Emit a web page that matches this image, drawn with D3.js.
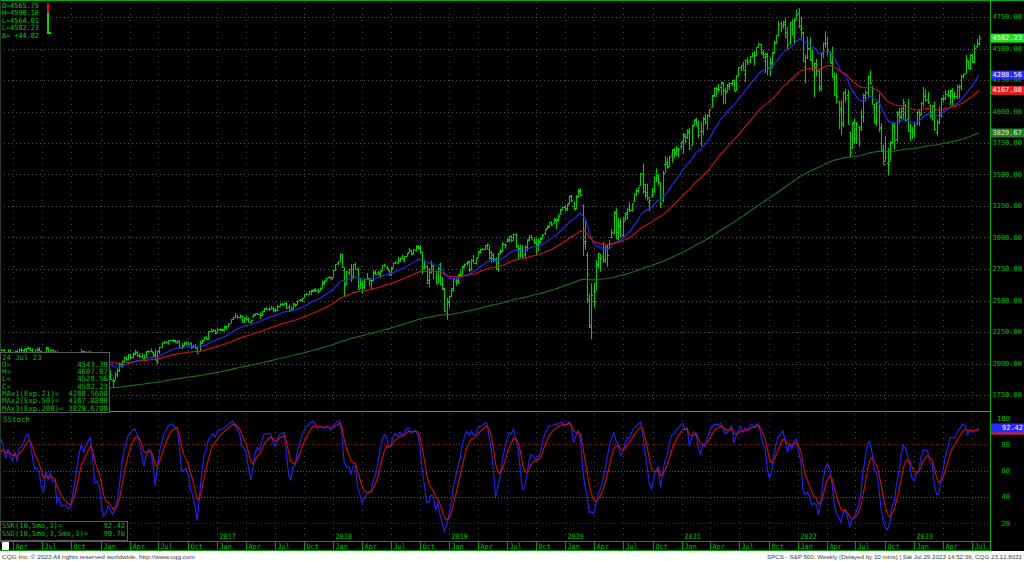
<!DOCTYPE html>
<html><head><meta charset="utf-8">
<script src="https://cdn.jsdelivr.net/npm/d3@7"></script>
<style>html,body{margin:0;padding:0;background:#000;overflow:hidden}svg{display:block}</style>
</head><body><svg id="c" width="1024" height="561"></svg>
<script>
// ---- DATA (weekly S&P 500 bars: [open, high, low, close]) ----
const weekStarts = ["2014-10-13","2015-01-05","2016-01-04","2017-01-02","2018-01-01","2019-01-07","2020-01-06","2021-01-04","2022-01-03","2023-01-02"];
const bars2014 = [[1905,1906,1821,1887],[1887,1965,1886,1965],[1965,2018,1951,2018],[2018,2034,2001,2032],[2032,2046,2031,2040],[2040,2071,2034,2064],[2065,2075,2064,2068],[2065,2079,2049,2075],[2074,2075,2002,2002],[2005,2077,1972,2071],[2069,2094,2069,2089],[2088,2092,2046,2058]];
const bars2015 = [[2054,2065,1992,2045],[2046,2054,1988,2019],[2020,2064,2005,2052],[2050,2057,1989,1995],[1997,2072,1981,2055],[2053,2097,2041,2097],[2097,2111,2086,2110],[2110,2119,2103,2105],[2105,2117,2066,2071],[2072,2080,2040,2053],[2054,2114,2050,2108],[2108,2114,2046,2061],[2065,2089,2057,2067],[2064,2103,2061,2102],[2102,2111,2073,2081],[2082,2120,2073,2118],[2119,2126,2067,2108],[2105,2121,2068,2116],[2115,2123,2092,2123],[2121,2135,2120,2126],[2125,2126,2099,2107],[2108,2122,2085,2093],[2093,2115,2072,2094],[2092,2127,2079,2110],[2112,2129,2100,2101],[2098,2100,2056,2077],[2074,2085,2044,2077],[2080,2132,2075,2127],[2126,2129,2077,2080],[2078,2114,2063,2104],[2104,2113,2068,2078],[2076,2103,2052,2092],[2090,2102,1970,1971],[1966,1989,1867,1989],[1987,1989,1904,1921],[1921,1976,1910,1961],[1963,2021,1953,1958],[1960,1990,1908,1931],[1929,1953,1872,1951],[1954,2020,1949,2015],[2013,2034,1990,2033],[2033,2080,2013,2075],[2075,2094,2067,2079],[2081,2116,2081,2099],[2097,2099,2023,2023],[2023,2097,2019,2089],[2090,2097,2070,2090],[2090,2104,2042,2092],[2090,2090,2011,2012],[2013,2077,1993,2006],[2010,2067,2005,2061],[2058,2081,2043,2044]];
const bars2016 = [[2039,2039,1918,1922],[1926,1950,1858,1880],[1878,1908,1812,1907],[1907,1940,1872,1940],[1936,1947,1872,1880],[1873,1881,1810,1865],[1871,1930,1871,1918],[1917,1963,1891,1948],[1947,2009,1931,2000],[1996,2024,1969,2022],[2019,2053,2005,2050],[2048,2056,2022,2036],[2037,2075,2024,2073],[2073,2073,2034,2048],[2050,2087,2039,2081],[2078,2111,2074,2092],[2088,2099,2052,2065],[2067,2084,2039,2057],[2058,2084,2043,2047],[2046,2071,2025,2052],[2052,2100,2050,2099],[2100,2106,2083,2099],[2101,2120,2091,2096],[2092,2092,2050,2071],[2075,2113,2033,2037],[2031,2103,1992,2103],[2096,2132,2074,2130],[2131,2169,2131,2162],[2162,2176,2158,2175],[2175,2177,2155,2174],[2171,2183,2148,2183],[2183,2188,2174,2184],[2183,2194,2169,2184],[2181,2187,2160,2169],[2170,2185,2157,2180],[2181,2187,2128,2128],[2124,2163,2120,2139],[2143,2175,2139,2165],[2159,2175,2145,2168],[2168,2169,2142,2154],[2161,2169,2115,2133],[2136,2147,2123,2141],[2142,2155,2119,2126],[2129,2133,2084,2085],[2101,2182,2098,2164],[2165,2189,2154,2182],[2186,2214,2185,2213],[2211,2214,2187,2192],[2191,2260,2187,2260],[2259,2278,2249,2258],[2260,2273,2254,2264],[2267,2268,2234,2239]];
const bars2017 = [[2251,2283,2248,2277],[2274,2280,2258,2275],[2269,2277,2258,2271],[2268,2301,2263,2295],[2286,2300,2267,2297],[2295,2319,2285,2316],[2321,2351,2321,2351],[2352,2368,2346,2367],[2367,2401,2359,2383],[2381,2383,2355,2373],[2371,2391,2360,2378],[2379,2382,2323,2344],[2329,2370,2322,2363],[2364,2379,2342,2356],[2354,2365,2328,2329],[2329,2349,2323,2349],[2375,2392,2374,2384],[2389,2399,2379,2399],[2399,2403,2387,2391],[2392,2406,2353,2382],[2387,2419,2379,2416],[2415,2441,2408,2439],[2437,2447,2425,2432],[2432,2446,2415,2433],[2434,2454,2430,2438],[2437,2451,2405,2423],[2431,2434,2407,2425],[2425,2464,2416,2459],[2459,2478,2455,2473],[2473,2484,2459,2472],[2475,2480,2463,2477],[2477,2491,2437,2441],[2445,2466,2418,2426],[2425,2454,2417,2443],[2443,2480,2429,2477],[2474,2474,2446,2461],[2474,2501,2474,2500],[2502,2509,2496,2502],[2502,2520,2489,2519],[2521,2552,2521,2549],[2551,2557,2545,2553],[2553,2575,2548,2575],[2578,2582,2544,2581],[2577,2588,2566,2588],[2587,2597,2567,2582],[2580,2593,2557,2579],[2579,2605,2576,2602],[2602,2658,2598,2642],[2646,2665,2624,2652],[2653,2680,2651,2676],[2685,2695,2676,2683],[2682,2686,2670,2674]];
const bars2018 = [[2684,2743,2682,2743],[2745,2787,2735,2786],[2799,2808,2779,2810],[2810,2873,2809,2873],[2867,2870,2759,2762],[2741,2763,2533,2620],[2637,2736,2621,2732],[2723,2748,2701,2747],[2753,2790,2647,2691],[2682,2787,2675,2787],[2790,2802,2742,2752],[2753,2762,2585,2588],[2613,2675,2594,2641],[2633,2661,2553,2604],[2611,2674,2587,2656],[2671,2718,2660,2670],[2675,2683,2613,2670],[2663,2676,2594,2663],[2663,2742,2655,2728],[2722,2742,2701,2713],[2725,2739,2704,2721],[2705,2736,2676,2735],[2741,2779,2736,2779],[2780,2791,2763,2780],[2765,2774,2742,2755],[2743,2743,2699,2718],[2705,2764,2698,2760],[2766,2804,2766,2801],[2798,2814,2790,2802],[2799,2848,2795,2819],[2819,2841,2805,2840],[2840,2863,2825,2833],[2827,2855,2802,2850],[2853,2877,2853,2875],[2884,2916,2884,2902],[2897,2901,2864,2872],[2876,2907,2865,2905],[2903,2941,2886,2930],[2926,2940,2903,2914],[2926,2940,2874,2886],[2886,2889,2710,2767],[2764,2817,2749,2768],[2774,2779,2628,2659],[2640,2756,2604,2723],[2727,2815,2714,2781],[2773,2775,2671,2736],[2731,2733,2631,2633],[2650,2760,2636,2760],[2790,2800,2621,2633],[2630,2686,2584,2600],[2590,2601,2409,2417],[2401,2520,2346,2486],[2498,2539,2444,2532]];
const bars2019 = [[2535,2598,2525,2596],[2582,2675,2571,2671],[2657,2681,2617,2665],[2644,2709,2631,2707],[2706,2738,2685,2708],[2706,2776,2704,2776],[2769,2794,2764,2793],[2798,2814,2775,2804],[2814,2816,2729,2743],[2747,2830,2740,2822],[2823,2861,2800,2801],[2797,2836,2785,2834],[2848,2894,2848,2893],[2888,2910,2873,2907],[2908,2917,2898,2905],[2908,2940,2898,2940],[2941,2954,2900,2946],[2909,2937,2825,2881],[2840,2892,2801,2860],[2841,2876,2805,2826],[2830,2841,2750,2752],[2752,2876,2728,2873],[2886,2911,2868,2887],[2889,2964,2884,2950],[2952,2955,2912,2942],[2972,2996,2960,2990],[2980,3014,2963,3014],[3014,3018,2966,2977],[2982,3028,2976,3026],[3024,3030,2914,2932],[2898,2945,2822,2919],[2907,2944,2840,2889],[2900,2939,2835,2847],[2867,2940,2836,2926],[2910,2986,2891,2979],[2988,3021,2970,3007],[3001,3022,2990,2992],[2984,3002,2946,2962],[2968,2993,2856,2952],[2944,2993,2892,2970],[2966,3004,2952,2986],[2997,3028,2987,3023],[3035,3067,3020,3067],[3079,3098,3065,3093],[3081,3121,3078,3120],[3123,3127,3091,3110],[3118,3154,3115,3141],[3144,3150,3070,3146],[3141,3183,3126,3169],[3183,3226,3183,3221],[3227,3248,3223,3240],[3240,3258,3212,3235]];
const bars2020 = [[3217,3268,3214,3265],[3271,3330,3264,3330],[3334,3338,3281,3295],[3248,3285,3214,3226],[3236,3337,3224,3328],[3318,3385,3315,3380],[3370,3393,3328,3338],[3258,3260,2856,2954],[2975,3137,2902,2972],[2864,2883,2478,2711],[2508,2553,2281,2305],[2291,2637,2192,2541],[2499,2642,2447,2489],[2579,2818,2579,2790],[2782,2879,2753,2875],[2845,2870,2728,2837],[2855,2965,2801,2831],[2815,2934,2798,2930],[2915,2945,2767,2864],[2914,2980,2913,2955],[3004,3068,2999,3044],[3038,3211,3026,3194],[3199,3233,2984,3041],[2994,3155,2966,3098],[3094,3155,3005,3009],[3018,3165,2999,3130],[3155,3198,3128,3185],[3205,3236,3141,3225],[3225,3280,3200,3216],[3219,3272,3204,3271],[3289,3352,3284,3351],[3356,3388,3328,3373],[3380,3399,3355,3397],[3419,3509,3410,3508],[3507,3588,3350,3427],[3371,3425,3310,3341],[3363,3428,3292,3319],[3285,3320,3209,3298],[3333,3393,3318,3348],[3367,3483,3354,3477],[3500,3549,3440,3484],[3494,3502,3415,3465],[3441,3441,3234,3270],[3297,3529,3279,3509],[3584,3646,3511,3585],[3600,3628,3544,3558],[3566,3644,3559,3638],[3653,3701,3594,3699],[3694,3712,3633,3663],[3675,3726,3648,3709],[3693,3712,3636,3703],[3723,3760,3699,3756]];
const bars2021 = [[3764,3827,3663,3825],[3803,3823,3750,3768],[3797,3859,3784,3841],[3855,3870,3694,3714],[3732,3894,3730,3887],[3892,3937,3885,3935],[3940,3951,3885,3907],[3886,3929,3789,3811],[3842,3915,3723,3842],[3844,3960,3810,3943],[3949,3983,3894,3913],[3916,3978,3853,3975],[3969,4021,3955,4020],[4035,4130,4034,4129],[4125,4192,4114,4185],[4183,4195,4118,4180],[4185,4219,4152,4181],[4192,4238,4128,4233],[4228,4236,4057,4174],[4169,4188,4061,4156],[4159,4219,4153,4204],[4216,4234,4168,4230],[4229,4249,4204,4247],[4249,4256,4165,4166],[4174,4287,4165,4281],[4285,4356,4279,4352],[4353,4372,4321,4370],[4373,4394,4325,4327],[4297,4415,4233,4412],[4409,4430,4367,4395],[4406,4441,4385,4437],[4438,4470,4430,4468],[4461,4480,4368,4442],[4450,4510,4445,4509],[4514,4546,4505,4535],[4535,4536,4456,4459],[4474,4493,4427,4433],[4403,4465,4306,4455],[4442,4466,4288,4357],[4349,4430,4279,4391],[4385,4475,4343,4471],[4464,4560,4460,4545],[4554,4608,4537,4605],[4611,4718,4595,4698],[4701,4714,4631,4683],[4689,4719,4659,4698],[4712,4744,4585,4595],[4628,4672,4495,4538],[4548,4713,4532,4712],[4710,4732,4600,4621],[4588,4741,4531,4726],[4733,4808,4733,4766]];
const bars2022 = [[4778,4819,4662,4677],[4655,4749,4582,4663],[4632,4632,4395,4398],[4357,4453,4223,4432],[4431,4595,4415,4501],[4505,4590,4402,4419],[4412,4490,4328,4349],[4332,4386,4115,4385],[4354,4416,4279,4329],[4323,4330,4157,4204],[4188,4465,4162,4463],[4462,4547,4424,4543],[4542,4637,4507,4546],[4547,4594,4445,4488],[4474,4475,4381,4393],[4386,4513,4267,4272],[4256,4308,4124,4132],[4130,4308,4062,4123],[4081,4082,3859,4024],[4013,4090,3811,3901],[3920,4159,3876,4158],[4151,4178,4074,4109],[4134,4169,3900,3901],[3838,3838,3637,3675],[3715,3914,3705,3912],[3920,3946,3740,3825],[3792,3918,3742,3899],[3880,3880,3722,3863],[3883,4013,3845,3962],[3965,4140,3911,4130],[4113,4167,4080,4145],[4155,4281,4113,4280],[4270,4325,4218,4228],[4195,4203,4057,4058],[4035,4062,3907,3924],[3909,4077,3886,4067],[4083,4140,3838,3873],[3874,3907,3693,3693],[3687,3736,3584,3586],[3610,3807,3604,3640],[3593,3711,3492,3583],[3609,3764,3609,3753],[3758,3910,3740,3901],[3882,3912,3699,3771],[3780,4002,3751,3993],[3978,4028,3907,3965],[3955,4034,3938,4026],[4006,4100,3940,4072],[4053,4060,3918,3934],[3939,4101,3838,3852],[3854,3907,3764,3845],[3843,3878,3784,3840]];
const bars2023 = [[3853,3907,3795,3895],[3911,4003,3888,3999],[3999,4016,3886,3973],[3979,4077,3973,4071],[4069,4195,4031,4136],[4120,4176,4079,4090],[4096,4156,4060,4079],[4054,4056,3944,3970],[3993,4048,3928,4046],[4055,4079,3847,3862],[3835,3937,3809,3917],[3918,4039,3899,3971],[3982,4110,3951,4109],[4102,4133,4069,4105],[4110,4164,4090,4138],[4139,4170,4114,4134],[4134,4170,4049,4169],[4166,4187,4048,4136],[4124,4154,4099,4124],[4126,4213,4099,4192],[4191,4213,4103,4205],[4200,4291,4166,4282],[4283,4299,4261,4299],[4308,4448,4302,4410],[4396,4406,4337,4348],[4345,4458,4329,4450],[4450,4456,4385,4399],[4394,4532,4385,4505],[4521,4578,4505,4536],[4543.39,4607.07,4528.56,4582.23]];

// moving-average seeds (estimated EMA values at first bar) and periods
const emaPeriods = [21, 50, 200];
const emaSeeds = [1955, 1880, 1575];
const emaColors = ["#2a2aff", "#d41414", "#1f6f1f"];
const emaLastLabels = ["4288.56", "4167.88", "3829.67"];
const emaLastValues = [4288.56, 4167.88, 3829.67];
const lastPrice = 4582.23;

const priceTicks = [1750,2000,2250,2500,2750,3000,3250,3500,3750,4000,4250,4500,4750];
const stochTicks = [20,40,60,80,100];
const stochK = 92.42, stochD = 90.76;

const topLegend = ["O=4565.75","H=4590.16","L=4564.01","L=4582.23","\u0394= +44.82"];
const infoLabels = ["24 Jul 23","O=","H=","L=","C=","MAx1(Exp.21)=","MAx2(Exp.50)=","MAx3(Exp.200)="];
const infoValues = ["","4543.39","4607.07","4528.56","4582.23","4288.5600","4167.8800","3829.6700"];
const stochLabels = ["SSK(10,Smo,3)=","SSD(10,Smo,3,Smo,3)="];
const stochValues = ["92.42","90.76"];
const monthNames = ["Jan","Apr","Jul","Oct"];
const footerLeft = "CQG Inc. \u00a9 2023 All rights reserved worldwide. http://www.cqg.com";
const footerRight = "SPCS - S&P 500, Weekly (Delayed by 10 mins) | Sat Jul 29 2023 14:52:36, CQG 23.12.8031";

// ---- BUILD ----
const yearBars = [bars2014,bars2015,bars2016,bars2017,bars2018,bars2019,bars2020,bars2021,bars2022,bars2023];
const data = [];
yearBars.forEach((arr,k)=>{
  const d0 = new Date(weekStarts[k]+"T00:00:00");
  arr.forEach((b,i)=>data.push({date:d3.timeDay.offset(d0,7*i),o:b[0],h:b[1],l:b[2],c:b[3]}));
});

const W = 990;
const GREEN = "#00c000";
const MONO = "'DejaVu Sans Mono', monospace";
const x = d3.scaleTime().domain([new Date(2017,0,1), new Date(2023,0,1)]).range([217,914]);
const y = d3.scaleLinear().domain([1750,4750]).range([395,17]);
const ys = d3.scaleLinear().domain([20,100]).range([523,418]);

const svg = d3.select("#c");
svg.append("rect").attr("width",1024).attr("height",561).attr("fill","#000");
const defs = svg.append("defs");
defs.append("clipPath").attr("id","cm").append("rect").attr("x",0).attr("y",1).attr("width",W).attr("height",410);
defs.append("clipPath").attr("id","cs").append("rect").attr("x",0).attr("y",413).attr("width",W).attr("height",128);

function mono(g, tx, ty, str, opt={}){
  const cw = opt.cw || 4.3;
  const t = g.append("text").attr("x",tx).attr("y",ty).text(str)
    .attr("font-family",MONO).attr("font-size",opt.fs||8)
    .attr("fill",opt.fill||GREEN).attr("dominant-baseline","central")
    .attr("text-anchor",opt.anchor||"start");
  if(str.length>0) t.attr("textLength",str.length*cw).attr("lengthAdjust","spacingAndGlyphs");
  return t;
}

// quarter ticks
const quarters = d3.timeMonth.every(3).range(x.invert(-60), x.invert(W));
const qIn = quarters.filter(d=>x(d)>=0);

// grid main
const grid = svg.append("g").attr("shape-rendering","crispEdges");
priceTicks.forEach(p=>{
  grid.append("line").attr("x1",0).attr("x2",W).attr("y1",Math.round(y(p))+0.5).attr("y2",Math.round(y(p))+0.5)
    .attr("stroke","#5a5a5a").attr("stroke-dasharray","1,3");
});
qIn.forEach(d=>{
  const xx = Math.round(x(d))+0.5;
  grid.append("line").attr("x1",xx).attr("x2",xx).attr("y1",2).attr("y2",410)
    .attr("stroke","#4a4a4a").attr("stroke-dasharray","1,5");
  grid.append("line").attr("x1",xx).attr("x2",xx).attr("y1",414).attr("y2",540)
    .attr("stroke","#4a4a4a").attr("stroke-dasharray","1,5");
});
// stoch grid
stochTicks.filter(v=>v<100).forEach(v=>{
  const col = v===80 ? "#a01010" : (v===20 ? "#1a1aa0" : "#555");
  grid.append("line").attr("x1",0).attr("x2",W).attr("y1",Math.round(ys(v))+0.5).attr("y2",Math.round(ys(v))+0.5)
    .attr("stroke",col).attr("stroke-dasharray","1,2");
});

// bars
const main = svg.append("g").attr("clip-path","url(#cm)");
const bp = d3.path();
data.forEach(d=>{
  const cx = Math.round(x(d.date))+0.5;
  bp.moveTo(cx, y(d.h)); bp.lineTo(cx, y(d.l));
  const yo = Math.round(y(d.o))+0.5, yc = Math.round(y(d.c))+0.5;
  bp.moveTo(cx-1.5, yo); bp.lineTo(cx, yo);
  bp.moveTo(cx, yc); bp.lineTo(cx+1.5, yc);
});
main.append("path").attr("d",bp.toString()).attr("stroke","#00cc00").attr("stroke-width",1.1).attr("fill","none");

// EMAs
emaPeriods.forEach((n,k)=>{
  const a = 2/(n+1); let e = emaSeeds[k];
  const vals = data.map(d=>{ e = e + a*(d.c-e); return {date:d.date, v:e}; });
  main.append("path").datum(vals)
    .attr("d", d3.line().x(d=>x(d.date)).y(d=>y(d.v)))
    .attr("fill","none").attr("stroke",emaColors[k]).attr("stroke-width",1.1);
});

// Slow stochastic
const rawK = data.map((d,i)=>{
  if(i<9) return null;
  const w = data.slice(i-9,i+1);
  const hh = d3.max(w,e=>e.h), ll = d3.min(w,e=>e.l);
  return 100*(d.c-ll)/(hh-ll);
});
function smo(arr,n){ let s=null; return arr.map(v=>{ if(v==null) return null; s = (s==null)? v : s + (v-s)/n; return s; }); }
const ssk = smo(rawK,3), ssd = smo(ssk,3);
const st = svg.append("g").attr("clip-path","url(#cs)");
const sline = arr => d3.line().defined((d,i)=>arr[i]!=null).x(d=>x(d.date)).y((d,i)=>ys(arr[i]))(data);
st.append("path").attr("d",sline(ssk)).attr("fill","none").attr("stroke","#2424ff").attr("stroke-width",1.1);
st.append("path").attr("d",sline(ssd)).attr("fill","none").attr("stroke","#d01010").attr("stroke-width",1.1);

// frame lines
const fr = svg.append("g").attr("shape-rendering","crispEdges");
fr.append("line").attr("x1",0).attr("x2",1024).attr("y1",0.5).attr("y2",0.5).attr("stroke","#00b000");
fr.append("line").attr("x1",0).attr("x2",W).attr("y1",411.5).attr("y2",411.5).attr("stroke","#00d000").attr("stroke-width",1.5);
fr.append("line").attr("x1",0.5).attr("x2",0.5).attr("y1",0).attr("y2",541).attr("stroke","#2a3a2a");

// month row
fr.append("rect").attr("x",0).attr("y",541).attr("width",W).attr("height",10).attr("fill","#000");
fr.append("line").attr("x1",0).attr("x2",W).attr("y1",541.5).attr("y2",541.5).attr("stroke","#00a000");
fr.append("line").attr("x1",0).attr("x2",W).attr("y1",550.5).attr("y2",550.5).attr("stroke","#00a000");
fr.append("rect").attr("x",2).attr("y",542).attr("width",7).attr("height",8).attr("fill","#fff");
qIn.forEach(d=>{
  const xx = Math.round(x(d))+0.5;
  fr.append("line").attr("x1",xx).attr("x2",xx).attr("y1",541).attr("y2",551).attr("stroke","#00a000");
  mono(svg, xx+2, 546, monthNames[d.getMonth()/3], {cw:4.1, fs:7.5});
  if(d.getMonth()===0 && xx>130) mono(svg, xx+2, 536, String(d.getFullYear()), {cw:4.1, fs:7.5});
});

// right axis
svg.append("rect").attr("x",991).attr("y",1).attr("width",33).attr("height",550).attr("fill","#000");
fr.append("line").attr("x1",990.5).attr("x2",990.5).attr("y1",0).attr("y2",551).attr("stroke","#00b000");
priceTicks.forEach(p=> mono(svg, 992.5, y(p), p.toFixed(2), {cw:4.2, fs:7}));
stochTicks.forEach(v=> mono(svg, 1010, ys(v), String(v), {cw:4.3, fs:7.2, anchor:"end"}));

function valBox(v, yScale, bg, fg, label, tx){
  const yy = yScale(v);
  svg.append("rect").attr("x",991).attr("y",yy-4.5).attr("width",33).attr("height",9).attr("fill",bg);
  mono(svg, tx||992.5, yy, label, {fill:fg, cw:4.2, fs:7});
}
valBox(lastPrice, y, "#2bdc2b", "#e6ffe6", lastPrice.toFixed(2));
valBox(emaLastValues[0], y, "#2a2aff", "#ffffff", emaLastLabels[0]);
valBox(emaLastValues[1], y, "#e82020", "#ffffff", emaLastLabels[1]);
valBox(emaLastValues[2], y, "#2a7a2a", "#d0f5d0", emaLastLabels[2]);
valBox(stochD, ys, "#e02020", "#ffffff", "");
valBox(stochK, ys, "#2a2aff", "#ffffff", String(stochK), 1002);

// top-left legend
svg.append("rect").attr("x",1).attr("y",1).attr("width",46).attr("height",38).attr("fill","#000");
topLegend.forEach((s,i)=> mono(svg, 2, 5+i*7.5, s, {cw:4.1, fs:7.2, fill:"#00d400"}));
svg.append("rect").attr("x",47).attr("y",3).attr("width",2).attr("height",10).attr("fill","#e01010");
svg.append("rect").attr("x",47).attr("y",13).attr("width",2).attr("height",21).attr("fill","#00e000");
svg.append("rect").attr("x",49).attr("y",32).attr("width",2).attr("height",2).attr("fill","#00e000");

// info box
svg.append("rect").attr("x",0.5).attr("y",352.5).attr("width",109).attr("height",60).attr("fill","#000").attr("stroke","#5a5a5a");
infoLabels.forEach((s,i)=>{
  mono(svg, 2, 357+i*7.3, s, {cw:4.4, fs:7.3});
  if(infoValues[i]) mono(svg, 108, 357+i*7.3, infoValues[i], {cw:4.4, fs:7.3, anchor:"end"});
});

// stoch label + box
mono(svg, 3, 419, "SStoch", {cw:4.5, fs:7.5});
svg.append("rect").attr("x",0.5).attr("y",521.5).attr("width",127).attr("height",19).attr("fill","#000").attr("stroke","#5a5a5a");
stochLabels.forEach((s,i)=>{
  mono(svg, 2, 525.5+i*8, s, {cw:4.3, fs:7.2});
  mono(svg, 125, 525.5+i*8, stochValues[i], {cw:4.3, fs:7.2, anchor:"end"});
});

// footer
svg.append("rect").attr("x",0).attr("y",551).attr("width",1024).attr("height",10).attr("fill","#fff");
svg.append("text").attr("x",2).attr("y",556.5).attr("dominant-baseline","central")
  .attr("font-family","'Liberation Sans', Arial, sans-serif").attr("font-size",6.2).attr("fill","#3a3a3a")
  .attr("textLength",193).attr("lengthAdjust","spacingAndGlyphs").text(footerLeft);
svg.append("text").attr("x",1022).attr("y",556.5).attr("dominant-baseline","central").attr("text-anchor","end")
  .attr("font-family","'Liberation Sans', Arial, sans-serif").attr("font-size",6.2).attr("fill","#3a3a3a")
  .attr("textLength",255).attr("lengthAdjust","spacingAndGlyphs").text(footerRight);
</script>
</body></html>
